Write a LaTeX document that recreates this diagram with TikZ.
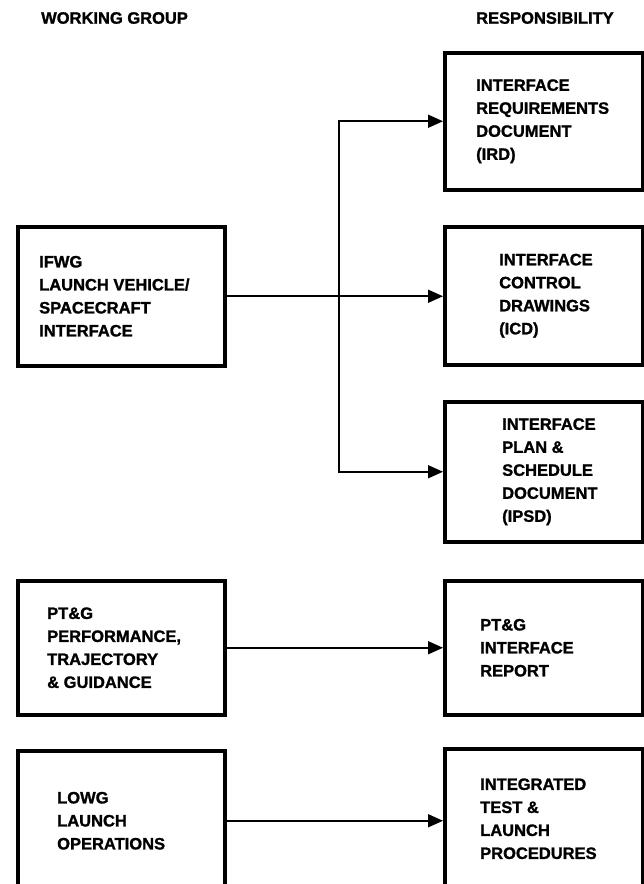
\documentclass[tikz,border=0pt]{standalone}
\usepackage{fontspec}
\setmainfont{Liberation Sans}[FakeBold=1.3]
\usetikzlibrary{arrows.meta}

\begin{document}
\begin{tikzpicture}[x=1pt, y=-1pt, >={Triangle[length=15pt,width=13pt]},
  box/.style={draw, line width=3.5pt, rectangle, minimum width=#1, anchor=north west, inner sep=0pt},
  lbl/.style={anchor=west, align=left, inner sep=0pt, font=\fontsize{16.5}{23}\selectfont\bfseries},
  link/.style={->, line width=1.7pt}]
\useasboundingbox (0,0) rectangle (644,884);
% headers
\node[lbl] (hgroup) at (41,18) {WORKING GROUP};
\node[lbl] (hresp) at (476,18) {RESPONSIBILITY};
% working groups
\node[box=207pt, minimum height=139pt] (ifwg) at (16,225) {};
\node[box=207pt, minimum height=134pt] (ptg) at (16,579) {};
\node[box=207pt, minimum height=140pt] (lowg) at (16,749) {};
% responsibilities
\node[box=198pt, minimum height=137pt] (ird) at (443,51) {};
\node[box=198pt, minimum height=138pt] (icd) at (443,225) {};
\node[box=198pt, minimum height=140pt] (ipsd) at (443,400) {};
\node[box=198pt, minimum height=134pt] (ptgrep) at (443,579) {};
\node[box=198pt, minimum height=140pt] (itlp) at (443,747) {};
% texts
\node[lbl] (ifwgtxt) at ([xshift=23pt]ifwg.west) {IFWG\\LAUNCH VEHICLE/\\SPACECRAFT\\INTERFACE};
\node[lbl] (ptgtxt) at ([xshift=31pt]ptg.west) {PT\&G\\PERFORMANCE,\\TRAJECTORY\\\& GUIDANCE};
\node[lbl] (lowgtxt) at ([xshift=41pt]lowg.west) {LOWG\\LAUNCH\\OPERATIONS};
\node[lbl] (irdtxt) at ([xshift=33pt]ird.west) {INTERFACE\\REQUIREMENTS\\DOCUMENT\\(IRD)};
\node[lbl] (icdtxt) at ([xshift=56pt]icd.west) {INTERFACE\\CONTROL\\DRAWINGS\\(ICD)};
\node[lbl] (ipsdtxt) at ([xshift=59pt]ipsd.west) {INTERFACE\\PLAN \&\\SCHEDULE\\DOCUMENT\\(IPSD)};
\node[lbl] (ptgreptxt) at ([xshift=37pt]ptgrep.west) {PT\&G\\INTERFACE\\REPORT};
\node[lbl] (itlptxt) at ([xshift=37pt]itlp.west) {INTEGRATED\\TEST \&\\LAUNCH\\PROCEDURES};
% connectors
\coordinate (fork) at (339,0);
\draw[link] (ifwg.east) -- (ifwg.east -| icd.west);
\draw[link] (ifwg.east -| fork) |- (ird.west);
\draw[link] (ifwg.east -| fork) |- (ipsd.west);
\draw[link] (ptg.east) -- (ptg.east -| ptgrep.west);
\draw[link] (lowg.east) -- (lowg.east -| itlp.west);
\end{tikzpicture}
\end{document}
